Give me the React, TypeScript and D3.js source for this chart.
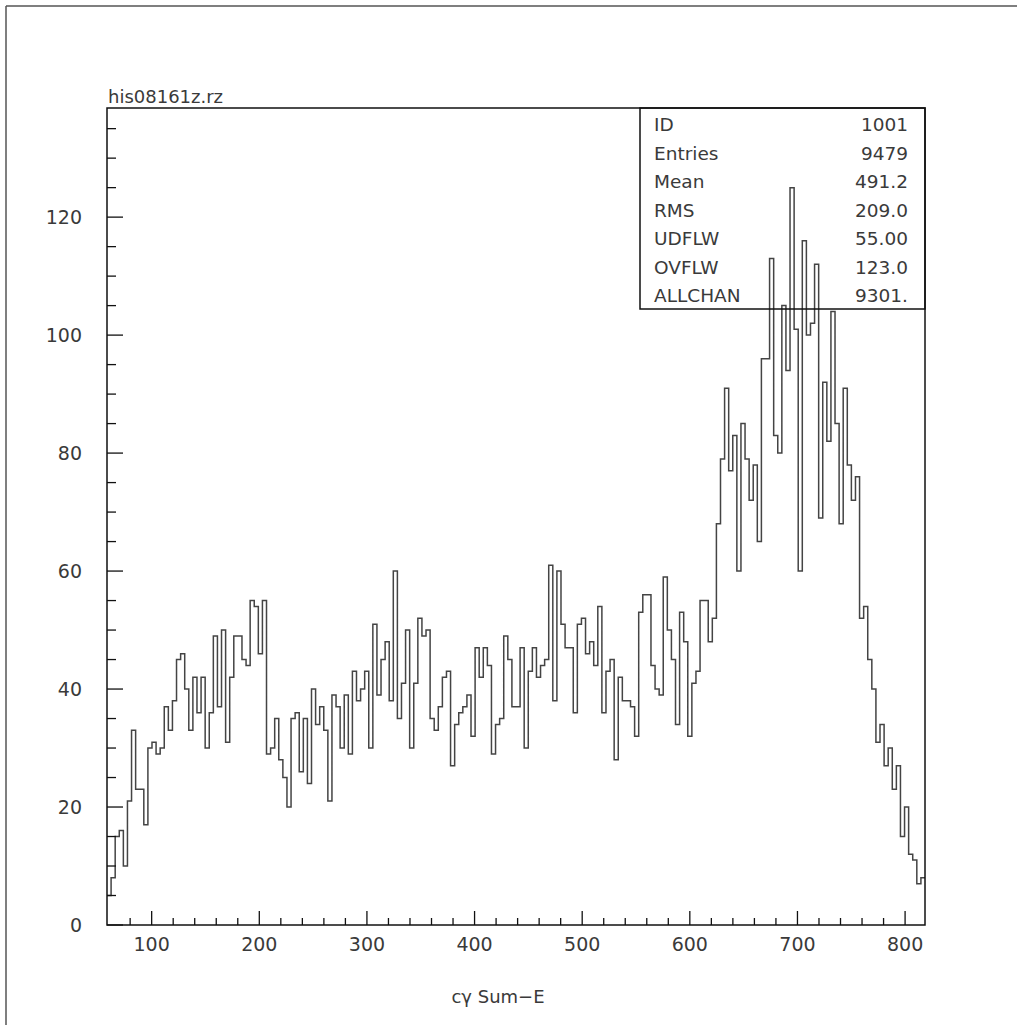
import React from "react";
import * as d3 from "d3";

// histogram counts, 200 bins of width 3.8 starting at 58.5
const counts: number[] = [
  5, 8, 15, 16, 10, 21, 33, 23, 23, 17,
  30, 31, 29, 30, 37, 33, 38, 45, 46, 40,
  33, 42, 36, 42, 30, 36, 49, 37, 50, 31,
  42, 49, 49, 45, 44, 55, 54, 46, 55, 29,
  30, 35, 28, 25, 20, 35, 36, 26, 35, 24,
  40, 34, 37, 33, 21, 39, 37, 30, 39, 29,
  43, 38, 40, 43, 30, 51, 39, 45, 48, 38,
  60, 35, 41, 50, 30, 41, 52, 49, 50, 35,
  33, 37, 42, 43, 27, 34, 36, 37, 39, 32,
  47, 42, 47, 44, 29, 34, 35, 49, 45, 37,
  37, 47, 30, 43, 47, 42, 44, 45, 61, 38,
  60, 51, 47, 47, 36, 51, 52, 46, 48, 44,
  54, 36, 43, 45, 28, 42, 38, 38, 37, 32,
  53, 56, 56, 44, 40, 39, 59, 50, 45, 34,
  53, 48, 32, 41, 43, 55, 55, 48, 52, 68,
  79, 91, 77, 83, 60, 85, 79, 72, 78, 65,
  96, 96, 113, 83, 80, 105, 94, 125, 101, 60,
  116, 100, 102, 112, 69, 92, 82, 104, 85, 68,
  91, 78, 72, 76, 52, 54, 45, 40, 31, 34,
  27, 30, 23, 27, 15, 20, 12, 11, 7, 8,
];
const xMin = 58.5;
const xMax = 818.5;
const yMax = 138.5;
const xTickLabels: number[] = [100, 200, 300, 400, 500, 600, 700, 800];
const yTickLabels: number[] = [0, 20, 40, 60, 80, 100, 120];
const statNames: string[] = ["ID", "Entries", "Mean", "RMS", "UDFLW", "OVFLW", "ALLCHAN"];
const statValues: string[] = ["1001", "9479", "491.2", "209.0", "55.00", "123.0", "9301."];
const title = "his08161z.rz";
const xTitle = "cγ Sum−E";

export default function App() {
  const L = 107, R = 925, T = 108, B = 925;
  const x = d3.scaleLinear().domain([xMin, xMax]).range([L, R]);
  const y = d3.scaleLinear().domain([0, yMax]).range([B, T]);
  const bw = (xMax - xMin) / counts.length;

  // step path
  let d = `M${x(xMin)},${y(counts[0])}`;
  counts.forEach((c, i) => {
    const x0 = xMin + i * bw;
    const x1 = x0 + bw;
    d += `L${x(x0)},${y(c)}L${x(x1)},${y(c)}`;
  });

  const xMinor = d3.range(80, 820, 20);
  const yMinor = d3.range(0, 139, 5);
  const font = "'DejaVu Sans', sans-serif";
  const txt = "#3a3a3a";

  return (
    <svg width={1017} height={1025} style={{ position: "absolute", left: 0, top: 0, background: "#fff" }}>
      <rect x={0} y={0} width={1017} height={1025} fill="#fff" />
      {/* outer border */}
      <line x1={6} y1={6} x2={1017} y2={6} stroke="#555" strokeWidth={1.5} />
      <line x1={6} y1={6} x2={6} y2={1025} stroke="#555" strokeWidth={1.5} />

      <text x={108} y={103} fontFamily={font} fontSize={18} fill={txt}>{title}</text>

      {/* histogram */}
      <path d={d} fill="none" stroke="#444" strokeWidth={1.5} />

      {/* x ticks */}
      {xMinor.map((v) => {
        const major = v % 100 === 0;
        return (
          <line key={"xt" + v} x1={x(v)} x2={x(v)} y1={B} y2={B - (major ? 14 : 7)} stroke="#111" strokeWidth={1.3} />
        );
      })}
      {yMinor.map((v) => {
        const major = v % 20 === 0;
        return (
          <line key={"yt" + v} x1={L} x2={L + (major ? 16 : 9)} y1={y(v)} y2={y(v)} stroke="#111" strokeWidth={1.3} />
        );
      })}

      {/* frame */}
      <rect x={L} y={T} width={R - L} height={B - T} fill="none" stroke="#111" strokeWidth={1.5} />

      {/* stats box */}
      <rect x={640} y={T} width={R - 640} height={309 - T} fill="none" stroke="#111" strokeWidth={1.5} />
      {statNames.map((n, i) => (
        <g key={n}>
          <text x={654} y={131 + i * 28.5} fontFamily={font} fontSize={18.5} fill={txt}>{n}</text>
          <text x={908} y={131 + i * 28.5} fontFamily={font} fontSize={18.5} fill={txt} textAnchor="end">{statValues[i]}</text>
        </g>
      ))}

      {/* tick labels */}
      {xTickLabels.map((v) => (
        <text key={"xl" + v} x={x(v)} y={951} fontFamily={font} fontSize={19} fill={txt} textAnchor="middle">{v}</text>
      ))}
      {yTickLabels.map((v) => (
        <text key={"yl" + v} x={82} y={y(v) + 7} fontFamily={font} fontSize={19} fill={txt} textAnchor="end">{v}</text>
      ))}

      <text x={498} y={1003} fontFamily={font} fontSize={18} fill={txt} textAnchor="middle">{xTitle}</text>
    </svg>
  );
}
